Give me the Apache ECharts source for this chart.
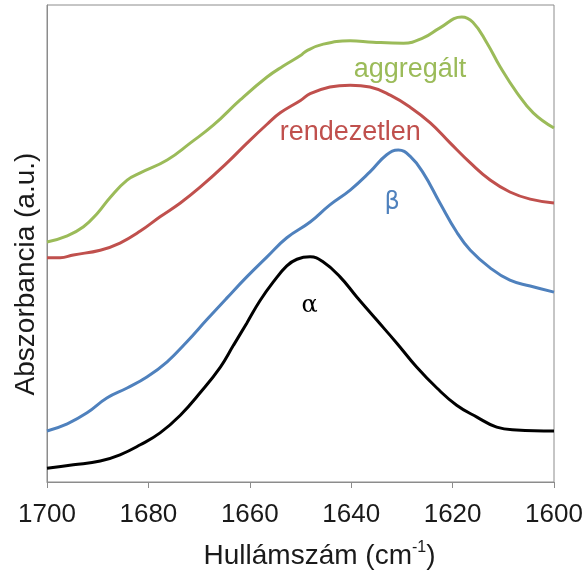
<!DOCTYPE html>
<html>
<head>
<meta charset="utf-8">
<script src="https://cdn.jsdelivr.net/npm/echarts@6/dist/echarts.min.js"></script>
<style>
  html, body { margin: 0; padding: 0; background: #fff; }
  #chart { width: 587px; height: 573px; }
</style>
</head>
<body>
<div id="chart"></div>
<script>
// wavenumbers (cm-1) and absorbance (a.u.)
const aggWn = [1700, 1696, 1692.8, 1690, 1687.5, 1684.2, 1681.6, 1676.3, 1671.7, 1667.2, 1661.9, 1656.6, 1653.4, 1650, 1648.8, 1645.5, 1640.2, 1635.7, 1629.7, 1625.8, 1622.5, 1618.2, 1616, 1613.2, 1610.6, 1607.3, 1604.1, 1600]
const aggAbs = [50.3, 51.6, 53.5, 56.4, 59.7, 63.3, 64.8, 67.5, 71.1, 74.8, 80.1, 84.9, 87.2, 89.4, 90.4, 91.8, 92.5, 92.2, 92.0, 93.1, 95.2, 97.5, 96.4, 92.0, 87.0, 81.6, 77.4, 74.2]

const rendWn = [1700, 1697.4, 1694.8, 1689.5, 1685.6, 1681.6, 1677.7, 1673.7, 1669.8, 1664.5, 1660.5, 1656.6, 1654, 1650, 1648.1, 1644.2, 1640.2, 1636.3, 1632.3, 1628.4, 1624.4, 1620.5, 1616.5, 1612.6, 1608.7, 1604.7, 1600]
const rendAbs = [47.0, 47.0, 47.6, 48.6, 50.1, 52.6, 55.6, 58.5, 61.8, 66.9, 71.1, 75.0, 77.4, 80.0, 81.4, 82.8, 83.2, 82.8, 81.1, 78.6, 75.3, 71.1, 66.9, 63.3, 60.8, 59.3, 58.5]

const betaWn = [1700, 1696, 1692.1, 1688.2, 1684.2, 1680.3, 1676.3, 1672.4, 1668.5, 1664.5, 1660.6, 1656.6, 1652.7, 1648.1, 1644.2, 1640.2, 1636.3, 1633, 1630.7, 1628.4, 1625.8, 1622.5, 1619.2, 1616.5, 1612.6, 1608.7, 1604.7, 1600]
const betaAbs = [10.7, 12.2, 14.5, 17.6, 19.7, 22.0, 25.2, 29.4, 34.0, 38.6, 43.0, 47.2, 51.2, 54.5, 58.1, 61.2, 65.0, 68.6, 69.6, 68.3, 64.8, 58.5, 52.4, 48.6, 44.9, 42.3, 41.1, 39.8]

const alphaWn = [1700, 1694.8, 1689.5, 1685.6, 1681.6, 1677.7, 1673.7, 1669.8, 1665.8, 1663.2, 1660.6, 1658, 1655.4, 1652.7, 1650.7, 1648.1, 1645.5, 1642.2, 1638.9, 1635, 1631, 1627.1, 1623.1, 1619.2, 1615.2, 1611.3, 1607.4, 1600]
const alphaAbs = [2.9, 3.6, 4.4, 5.7, 7.8, 10.3, 14.0, 18.7, 24.1, 28.7, 33.3, 38.0, 41.9, 45.3, 46.7, 47.2, 46.1, 43.0, 38.8, 34.0, 29.1, 24.1, 19.7, 16.1, 13.6, 11.5, 10.9, 10.7]

const xTicks = [1700, 1680, 1660, 1640, 1620, 1600]

const pairs = (xs, ys) => xs.map((x, i) => [x, ys[i]])

const chart = echarts.init(document.getElementById('chart'))

function curve(name, wn, abs, color, label, at, font) {
  return {
    name: name,
    type: 'line',
    data: pairs(wn, abs),
    smooth: 0.45,
    symbol: 'none',
    lineStyle: { color: color, width: 3 },
    markPoint: {
      symbol: 'circle',
      symbolSize: 0,
      silent: true,
      label: {
        show: true,
        position: 'inside',
        formatter: label,
        color: color,
        fontSize: font ? font.size : 27,
        fontFamily: font ? font.family : 'Liberation Sans'
      },
      data: [{ coord: at }]
    }
  }
}

chart.setOption({
  animation: false,
  textStyle: { fontFamily: 'Liberation Sans' },
  grid: {
    left: 47, right: 33, top: 5, bottom: 91,
    outerBoundsMode: 'none',
    show: true, borderColor: '#8c8c8c', borderWidth: 1
  },
  xAxis: {
    type: 'value',
    inverse: true,
    min: 1600,
    max: 1700,
    interval: 20,
    axisLine: { lineStyle: { color: '#8c8c8c' } },
    axisTick: { show: true, length: 6, lineStyle: { color: '#8c8c8c' } },
    splitLine: { show: false },
    axisLabel: {
      color: '#1a1a1a', fontSize: 26, margin: 20,
      customValues: xTicks,
      formatter: v => String(v)
    },
    name: '{a|Hullámszám (cm}{s|-1}{a|)}',
    nameLocation: 'middle',
    nameGap: 58,
    nameTextStyle: {
      padding: [0, 0, 0, 38],
      rich: {
        a: { fontSize: 28, color: '#1a1a1a', lineHeight: 32 },
        s: { fontSize: 16, color: '#1a1a1a', lineHeight: 32, verticalAlign: 'top' }
      }
    }
  },
  yAxis: {
    type: 'value',
    min: 0,
    max: 100,
    axisLine: { show: true, lineStyle: { color: '#8c8c8c' } },
    axisTick: { show: false },
    axisLabel: { show: false },
    splitLine: { show: false }
  },
  graphic: [{
    type: 'text',
    x: 26,
    y: 274,
    rotation: Math.PI / 2,
    style: {
      text: 'Abszorbancia (a.u.)',
      fontSize: 28,
      fontFamily: 'Liberation Sans',
      fill: '#1a1a1a',
      textAlign: 'center',
      textVerticalAlign: 'middle'
    }
  }],
  series: [
    curve('aggregált', aggWn, aggAbs, '#9bbb59', 'aggregált', [1628.4, 86.4]),
    curve('rendezetlen', rendWn, rendAbs, '#c0504d', 'rendezetlen', [1640.2, 73.2]),
    curve('β', betaWn, betaAbs, '#4f81bd', 'β', [1631.9, 58.5], { size: 24, family: 'DejaVu Sans' }),
    curve('α', alphaWn, alphaAbs, '#000000', 'α', [1648.2, 37.0], { size: 24, family: 'DejaVu Serif' })
  ]
})
</script>
</body>
</html>
